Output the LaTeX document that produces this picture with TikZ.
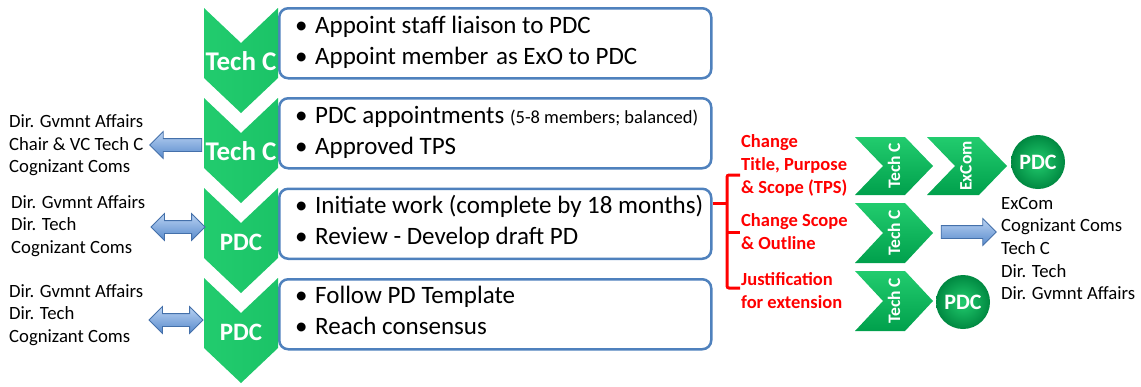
\documentclass[tikz,border=0pt]{standalone}
\usepackage{fontspec}
\setmainfont{Carlito}
\usetikzlibrary{shapes.arrows,positioning}
\definecolor{boxblue}{RGB}{79,129,189}
\definecolor{chevgreen}{RGB}{0,160,76}
\definecolor{chevlight}{RGB}{34,204,110}
\definecolor{arrowlight}{RGB}{185,210,242}
\definecolor{arrowblue}{RGB}{88,138,204}
\definecolor{arrowedge}{RGB}{68,112,170}

\begin{document}
\begin{tikzpicture}[x=1pt, y=-1pt,
    stepbox/.style={draw=boxblue, line width=2.5pt, rounded corners=9pt, fill=white, minimum width=432pt, minimum height=70pt, anchor=north west},
    item/.style={anchor=base west, inner sep=0pt, font=\fontsize{25}{27}\selectfont},
    chev/.style={left color=chevlight, middle color=chevgreen, right color=chevlight!80!chevgreen},
    rchev/.style={top color=chevlight, bottom color=chevgreen},
    chevtext/.style={text=white, inner sep=0pt, font=\bfseries\fontsize{27}{29}\selectfont},
    rchevtext/.style={text=white, inner sep=0pt, rotate=90, font=\bfseries\fontsize{17.5}{20}\selectfont},
    pdcball/.style={circle, minimum size=54pt, inner sep=0pt, inner color=chevlight, outer color=chevgreen!85!black, text=white, font=\bfseries\fontsize{22}{24}\selectfont},
    who/.style={anchor=west, align=left, inner sep=0pt, font=\fontsize{18.7}{22.6}\selectfont},
    redlabel/.style={anchor=west, align=left, inner sep=0pt, text=red, font=\bfseries\fontsize{18.5}{23}\selectfont},
    blockarrow/.style={draw=arrowedge, line width=0.8pt, top color=arrowlight, bottom color=arrowblue, inner xsep=0pt, inner ysep=6pt, single arrow head extend=7pt, double arrow head extend=7pt},
    brace/.style={draw=red, line width=3pt, rounded corners=2pt}]
    \path[use as bounding box] (0,0) rectangle (1141,386);

    % Boxes
    \node[stepbox] (box1) at (278,7) {};
    \node[stepbox] (box2) at (278,97) {};
    \node[stepbox] (box3) at (278,187.5) {};
    \node[stepbox] (box4) at (278,278) {};

    \node[item] (b1a) at (295,33) {\makebox[20pt][l]{\textbullet}Appoint staff liaison to PDC};
    \node[item] (b1b) at (295,64) {\makebox[20pt][l]{\textbullet}Appoint member\kern2pt\ as ExO to PDC};
    \node[item] (b2a) at (295,123) {\makebox[20pt][l]{\textbullet}PDC appointments\ {\fontsize{18.5}{20}\selectfont (5-8 members; balanced)}};
    \node[item] (b2b) at (295,154) {\makebox[20pt][l]{\textbullet}Approved TPS};
    \node[item] (b3a) at (295,213) {\makebox[20pt][l]{\textbullet}Initiate work (complete by 18 months)};
    \node[item] (b3b) at (295,244) {\makebox[20pt][l]{\textbullet}Review - Develop draft PD};
    \node[item] (b4a) at (295,303.5) {\makebox[20pt][l]{\textbullet}Follow PD Template};
    \node[item] (b4b) at (295,334.5) {\makebox[20pt][l]{\textbullet}Reach consensus};

    % Chevrons
    \path[chev] (204,8) -- (241,43) -- (278,8) -- (278,78) -- (241,113) -- (204,78) -- cycle;
    \path[chev] (204,98) -- (241,133) -- (278,98) -- (278,168) -- (241,203) -- (204,168) -- cycle;
    \path[chev] (204,188) -- (241,223) -- (278,188) -- (278,258) -- (241,293) -- (204,258) -- cycle;
    \path[chev] (204,278) -- (241,313) -- (278,278) -- (278,348) -- (241,383) -- (204,348) -- cycle;
    \node[chevtext] (tc1) at (241,61) {Tech C};
    \node[chevtext] (tc2) at (241,151) {Tech C};
    \node[chevtext, font=\bfseries\fontsize{25}{27}\selectfont] (pdc3) at (241,242) {PDC};
    \node[chevtext, font=\bfseries\fontsize{25}{27}\selectfont] (pdc4) at (241,332) {PDC};

    \path[rchev] (855,137) -- (905,137) -- (933,166) -- (905,195) -- (855,195) -- (883,166) -- cycle;
    \path[rchev] (927,137) -- (979,137) -- (1007,166) -- (979,195) -- (927,195) -- (955,166) -- cycle;
    \path[rchev] (855,203) -- (905,203) -- (933,233) -- (905,263) -- (855,263) -- (883,233) -- cycle;
    \path[rchev] (855,271) -- (905,271) -- (933,301) -- (905,331) -- (855,331) -- (883,301) -- cycle;
    \node[rchevtext] (rtc1) at (894,166) {Tech C};
    \node[rchevtext] (rex1) at (966,166) {ExCom};
    \node[rchevtext] (rtc2) at (894,233) {Tech C};
    \node[rchevtext] (rtc3) at (894,301) {Tech C};
    \node[pdcball] (rpdc1) at (1038,162) {PDC};
    \node[pdcball] (rpdc3) at (963,302) {PDC};

    % Arrows
    \node[blockarrow, single arrow, shape border rotate=180, minimum height=52pt] (arr2) at (179,145) {};
    \node[blockarrow, double arrow, minimum height=54pt] (arr3) at (178,227) {};
    \node[blockarrow, double arrow, minimum height=54pt] (arr4) at (176,320) {};
    \node[blockarrow, single arrow, minimum height=55pt] (arrR) at (965.5,232) {};

    % Bracket
    \draw[brace] (740,175) -- (727,175) -- (727,288) -- (740,288);
    \draw[brace] ([yshift=-15.5pt]box3.north east) -- (727,203);
    \draw[brace] (727,232) -- (740,232);

    % Labels
    \node[who] (who2) at (9,145.5) {Dir. Gvmnt Affairs\\Chair \& VC Tech C\\Cognizant Coms};
    \node[who] (who3) at (11,226) {Dir. Gvmnt Affairs\\Dir. Tech\\Cognizant Coms};
    \node[who] (who4) at (9,315) {Dir. Gvmnt Affairs\\Dir. Tech\\Cognizant Coms};
    \node[who] (roles) at (1001,248.5) {ExCom\\Cognizant Coms\\Tech C\\Dir. Tech\\Dir. Gvmnt Affairs};

    \node[redlabel] (tps) at (741,165) {Change\\Title, Purpose\\\& Scope (TPS)};
    \node[redlabel] (scope) at (741,231.5) {Change Scope\\\& Outline};
    \node[redlabel] (extn) at (741,291) {Justification\\for extension};
\end{tikzpicture}
\end{document}
